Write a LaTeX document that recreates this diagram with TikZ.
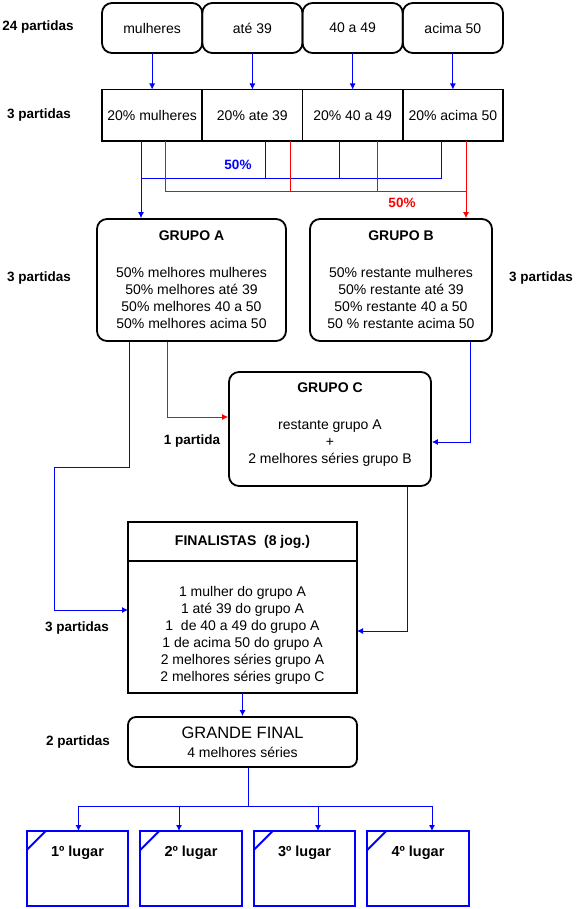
\documentclass[tikz,border=0pt]{standalone}
\usepackage{fontspec}
\setmainfont{Liberation Sans}
\usepackage{tikz}
\usetikzlibrary{positioning}
\usetikzlibrary{arrows.meta}
\newcommand{\corpo}{\fontsize{14}{17}\selectfont}
\newcommand{\titulo}{\fontsize{14}{17}\selectfont\bfseries}
\newcommand{\rotulo}{\fontsize{13.5}{15}\selectfont\bfseries}

\begin{document}
\begin{tikzpicture}[x=1pt, y=-1pt,
  cat/.style = {draw, rounded corners=10pt, line width=1.8pt, outer sep=0pt, minimum width=100.25pt, minimum height=50pt, inner sep=1pt, font=\corpo},
  pct/.style = {draw, line width=1.8pt, outer sep=0pt, minimum width=100.25pt, minimum height=51.5pt, inner sep=1pt, font=\corpo},
  grupo/.style = {draw, rounded corners=10pt, line width=1.8pt, align=center, font=\corpo},
  lugar/.style = {draw=blue, line width=1.8pt, outer sep=0pt, minimum width=101.5pt, minimum height=75pt},
  lugtxt/.style = {font=\fontsize{14.5}{16}\selectfont\bfseries},
  lbl/.style = {font=\rotulo},
  azul/.style = {draw=blue, line width=0.9pt},
  verm/.style = {draw=red, line width=0.9pt},
  >={Latex[length=6pt,width=6pt]}]

\useasboundingbox (0,0) rectangle (576,909);

% categorias
\node[cat] (c1) at (152.125,28) {mulheres};
\node[cat] (c2) [right=0pt of c1] {até 39};
\node[cat] (c3) [right=0pt of c2] {40 a 49};
\node[cat] (c4) [right=0pt of c3] {acima 50};

\node[pct] (p1) [below=36.5pt of c1] {20\% mulheres};
\node[pct] (p2) [right=0pt of p1] {20\% ate 39};
\node[pct] (p3) [right=0pt of p2] {20\% 40 a 49};
\node[pct] (p4) [right=0pt of p3] {20\% acima 50};

\path (c1) edge [azul,->] (p1);
\path (c2) edge [azul,->] (p2);
\path (c3) edge [azul,->] (p3);
\path (c4) edge [azul,->] (p4);

\node[lbl] (r24) at (38,27) {24 partidas};
\node[lbl] (r3a) at (39,115) {3 partidas};

% grupos
\node[grupo, minimum width=189pt, minimum height=122pt] (gA) at (191.5,280)
  {{\titulo GRUPO A}\\[20pt]
   50\% melhores mulheres\\
   50\% melhores até 39\\
   50\% melhores 40 a 50\\
   50\% melhores acima 50};
\node[grupo, minimum width=182pt, minimum height=122pt] (gB) at (401,280)
  {{\titulo GRUPO B}\\[20pt]
   50\% restante mulheres\\
   50\% restante até 39\\
   50\% restante 40 a 50\\
   50~\% restante acima 50};
\node[grupo, minimum width=202pt, minimum height=114pt] (gC) at (330,429)
  {{\titulo GRUPO C}\\[20pt]
   restante grupo A\\
   +\\
   2 melhores séries grupo B\\[-5pt]\mbox{}};

\node[lbl] (r3b) at (39,278) {3 partidas};
\node[lbl] (r3c) at (541,278) {3 partidas};
\node[lbl] (r1) at (192,441) {1 partida};
\node[lbl, text=blue] (m50a) at (238,165) {50\%};
\node[lbl, text=red] (m50b) at (402,203) {50\%};

% 50% de cada faixa
\coordinate (ja) at (141,178);
\coordinate (jb) at (466,191);
\draw[azul,->] (ja |- p1.south) -- (ja |- gA.north);
\draw[azul] ([xshift=13.5pt]p2.south) |- (ja);
\draw[azul] ([xshift=-12.75pt]p3.south) |- (ja);
\draw[azul] ([xshift=-11pt]p4.south) |- (ja);
\draw[verm,->] (jb |- p4.south) -- (jb |- gB.north);
\draw[verm] ([xshift=13.75pt]p1.south) |- (jb);
\draw[verm] ([xshift=38.5pt]p2.south) |- (jb);
\draw[verm] ([xshift=25.25pt]p3.south) |- (jb);

% finalistas
\node[draw, line width=2.8pt, outer sep=0pt, minimum width=229pt, minimum height=39pt, font=\titulo] (tit) at (242.5,541.5) {FINALISTAS~~(8 jog.)};
\node[draw, line width=1.8pt, outer sep=0pt, minimum width=229pt, minimum height=132pt, align=center, font=\corpo] (fin) [below=0pt of tit]
  {\mbox{}\\[10pt]
   1 mulher do grupo A\\
   1 até 39 do grupo A\\
   1~ de 40 a 49 do grupo A\\
   1 de acima 50 do grupo A\\
   2 melhores séries grupo A\\
   2 melhores séries grupo C};
\node[lbl] (r3d) at (77,628) {3 partidas};

\draw[verm,->] ([xshift=-24.5pt]gA.south) |- ([yshift=12pt]gC.west);
\draw[azul,->] ([xshift=69pt]gB.south) |- ([yshift=-13pt]gC.east);
\coordinate (jc) at (54,467);
\draw[azul,->] ([xshift=-62.5pt]gA.south) |- (jc) |- ([yshift=17pt]fin.west);
\draw[azul,->] ([xshift=77pt]gC.south) |- ([yshift=-4pt]fin.east);

% grande final
\node[grupo, rounded corners=8pt, minimum width=229pt, minimum height=50pt] (gf) at (242.5,742)
  {{\fontsize{16.5}{18}\selectfont GRANDE FINAL}\\[2pt]
   4 melhores séries};
\node[lbl] (r2) at (78,742) {2 partidas};
\path (fin) edge [azul,->] (gf);

% lugares
\node[lugar] (l1) at (77.5,868.5) {};
\node[lugar] (l2) [right=12pt of l1] {};
\node[lugar] (l3) [right=12pt of l2] {};
\node[lugar] (l4) [right=12pt of l3] {};
\node[lugtxt] (t1) [below=11pt of l1.north] {1º lugar};
\node[lugtxt] (t2) [below=11pt of l2.north] {2º lugar};
\node[lugtxt] (t3) [below=11pt of l3.north] {3º lugar};
\node[lugtxt] (t4) [below=11pt of l4.north] {4º lugar};
\draw[blue, line width=1.8pt] ([yshift=-19pt]l1.north west) -- ([xshift=19pt]l1.north west);
\draw[blue, line width=1.8pt] ([yshift=-19pt]l2.north west) -- ([xshift=19pt]l2.north west);
\draw[blue, line width=1.8pt] ([yshift=-19pt]l3.north west) -- ([xshift=19pt]l3.north west);
\draw[blue, line width=1.8pt] ([yshift=-19pt]l4.north west) -- ([xshift=19pt]l4.north west);

\coordinate (jd) at (248,806);
\draw[azul] ([xshift=5.5pt]gf.south) -- (jd);
\draw[azul,->] (jd) -| ([xshift=1pt]l1.north);
\draw[azul,->] (jd) -| ([xshift=-12pt]l2.north);
\draw[azul,->] (jd) -| ([xshift=13.5pt]l3.north);
\draw[azul,->] (jd) -| ([xshift=14pt]l4.north);
\end{tikzpicture}
\end{document}
